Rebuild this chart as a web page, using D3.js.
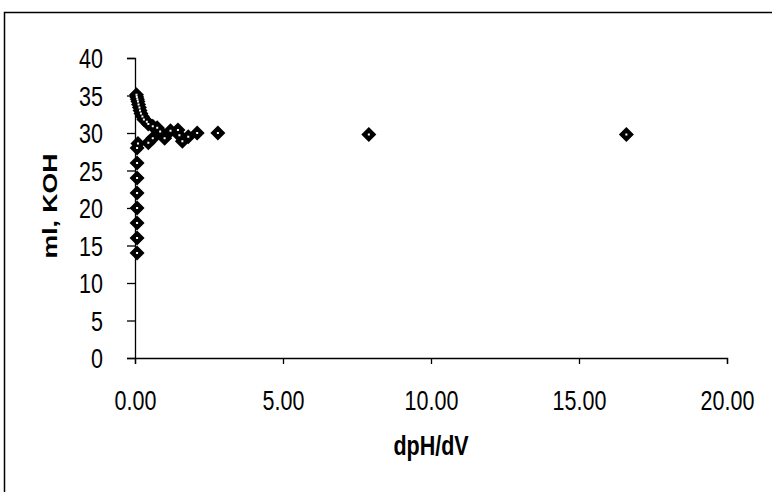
<!DOCTYPE html>
<html><head><meta charset="utf-8">
<script src="https://cdn.jsdelivr.net/npm/d3@7"></script>
<style>body{margin:0;background:#fff}svg{display:block}</style>
</head><body>
<svg id="c" width="772" height="492"></svg>
<script>
const xTicks = [0, 5, 10, 15, 20];
const yTicks = [0, 5, 10, 15, 20, 25, 30, 35, 40];
const dpHdV = [0.07,0.07,0.07,0.07,0.07,0.07,0.07,0.07,0.1,
  0.45,0.6,0.85,1.0,1.2,1.45,1.6,1.8,1.5,2.1,2.8,7.9,16.6,
  0.75,0.6,0.45,0.4,0.3,0.25,0.2,0.17,0.15,0.12,0.1,0.08,0.06,0.05];
const mlKOH = [14,16,18,20,22,24,26,28,28.6,
  28.7,29.3,30.2,29.3,30.3,30.4,28.9,29.5,29.7,30,30,29.8,29.8,
  30.7,30.9,31.2,31.5,31.8,32.2,32.6,33,33.4,33.8,34.2,34.5,34.8,35.1];

const SY = 1.3;
const svg = d3.select("#c");
svg.append("rect").attr("x",4.5).attr("y",12.5).attr("width",900).attr("height",600)
  .attr("fill","none").attr("stroke","#000").attr("stroke-width",1.5);

const x = d3.scaleLinear().domain([0,20]).range([135,727]);
const y = d3.scaleLinear().domain([0,40]).range([358,58]);
const font = "'Liberation Sans', Arial, sans-serif";

const xa = svg.append("g").attr("transform","translate(0,358)")
  .call(d3.axisBottom(x).tickValues(xTicks).tickFormat(d3.format(".2f")).tickSizeOuter(0).tickSize(6));
const ya = svg.append("g").attr("transform","translate(135,0)")
  .call(d3.axisLeft(y).tickValues(yTicks).tickSizeOuter(0).tickSize(8));
[xa,ya].forEach(g=>{
  g.selectAll("path,line").attr("stroke","#000").attr("stroke-width",1.3);
  g.selectAll("text").attr("font-family",font).attr("font-size",21.5).attr("fill","#000")
    .attr("x",0).attr("y",0).attr("dy","0.35em");
});
xa.selectAll("text").attr("transform",`translate(0,42) scale(1,${SY})`);
ya.selectAll("text").attr("text-anchor","end").attr("transform",`translate(-32,0) scale(1,${SY})`);

svg.append("text").attr("transform",`translate(431,445) scale(1,${SY})`).attr("dy","0.35em").attr("text-anchor","middle")
  .attr("font-family",font).attr("font-size",21.5).attr("font-weight","bold").text("dpH/dV");
svg.append("text").attr("transform",`translate(50,206) scale(1,${SY}) rotate(-90)`).attr("dy","0.35em").attr("text-anchor","middle")
  .attr("font-family",font).attr("font-size",20.5).attr("font-weight","bold").text("ml, KOH");

const pts = dpHdV.map((v,i)=>({x:v,y:mlKOH[i]}));
const g = svg.append("g");
const h = 7.5;
g.selectAll("path.m").data(pts).join("path").attr("class","m")
  .attr("transform",d=>`translate(${x(d.x)},${y(d.y)})`)
  .attr("d",`M0,${-h}L${h},0L0,${h}L${-h},0Z`).attr("fill","#000");
g.selectAll("rect.c").data(pts).join("rect").attr("class","c")
  .attr("x",d=>x(d.x)-1).attr("y",d=>y(d.y)-1).attr("width",2).attr("height",2).attr("fill","#fff");
</script>
</body></html>
